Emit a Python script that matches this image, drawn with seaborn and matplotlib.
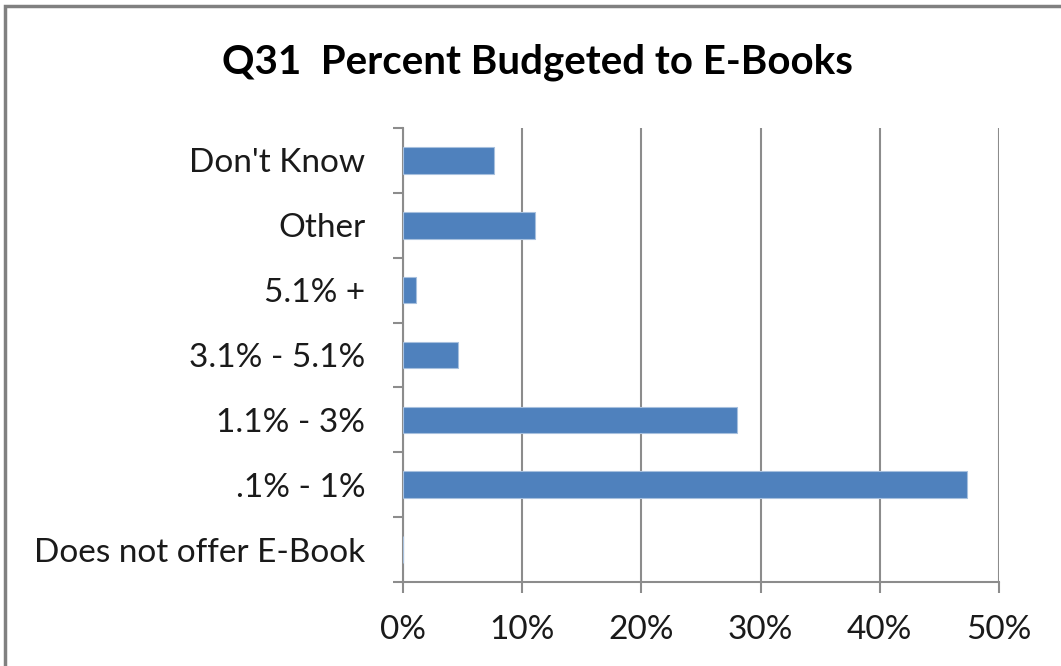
import matplotlib
matplotlib.use("Agg")
import matplotlib.pyplot as plt
from matplotlib.ticker import FixedLocator, PercentFormatter
from matplotlib.patches import Rectangle
import seaborn as sns
import pandas as pd
import numpy as np

categories = ["Don't Know", "Other", "5.1% +", "3.1% - 5.1%", "1.1% - 3%", ".1% - 1%", "Does not offer E-Book"]
percent = [7.6, 11.1, 1.1, 4.6, 28.0, 47.3, 0.0]
x_ticks = [0, 10, 20, 30, 40, 50]

df = pd.DataFrame({"category": categories, "percent": percent})

sns.set_theme(style="white")
plt.rcParams["font.family"] = ["Lato", "DejaVu Sans"]

fig = plt.figure(figsize=(10.61, 6.66), dpi=100)
ax = fig.add_axes([403 / 1061, 1 - 582 / 666, (999 - 403) / 1061, (582 - 128) / 666])

sns.barplot(data=df, x="percent", y="category", order=categories, orient="h",
            color="#4F81BD", saturation=1, width=0.41, ax=ax,
            edgecolor="#A7C0DE", linewidth=0.8, zorder=3)

grid_c = "#8C8C8C"
ax.set_xlim(0, 50)
ax.set_ylim(len(categories) - 0.5, -0.5)
ax.xaxis.set_major_locator(FixedLocator(x_ticks))
ax.xaxis.set_major_formatter(PercentFormatter(decimals=0))
ax.grid(axis="x", color=grid_c, linewidth=1.5, zorder=0)
ax.grid(axis="y", visible=False)
ax.set_axisbelow(True)

# category boundary ticks on the value axis
ax.yaxis.set_minor_locator(FixedLocator(np.arange(-0.5, len(categories), 1.0)))
ax.tick_params(axis="y", which="major", length=0, pad=27, labelsize=24, labelcolor="#1a1a1a")
ax.tick_params(axis="y", which="minor", length=7, width=1.5, color=grid_c, left=True, direction="out")
ax.tick_params(axis="x", which="major", length=8, width=1.5, color=grid_c, bottom=True,
               direction="out", labelsize=24, labelcolor="#1a1a1a", pad=16)

for side in ["top", "right"]:
    ax.spines[side].set_visible(False)
for side in ["left", "bottom"]:
    ax.spines[side].set_color(grid_c)
    ax.spines[side].set_linewidth(1.5)

ax.set_xlabel("")
ax.set_ylabel("")

fig.text(537 / 1061, 1 - 62 / 666, "Q31  Percent Budgeted to E-Books",
         ha="center", va="center", fontsize=29, fontweight="bold", color="#000000")

# chart frame
fig.add_artist(Rectangle((5 / 1061, -0.05), 1.2, 1 - 6 / 666 + 0.05,
                         transform=fig.transFigure, fill=False,
                         edgecolor="#808080", linewidth=2.5))

fig.savefig("out.png", dpi=100, facecolor="white")
